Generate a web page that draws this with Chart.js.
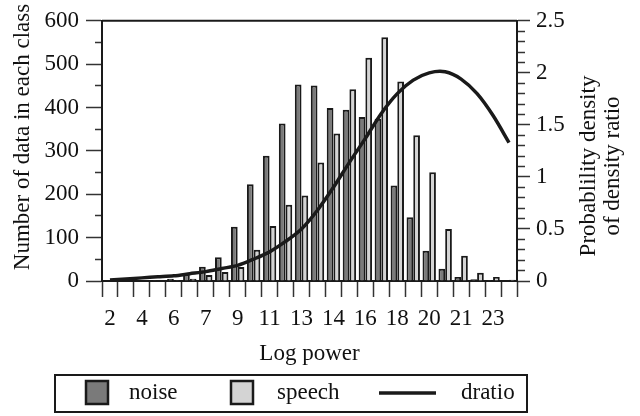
<!DOCTYPE html>
<html>
<head>
<meta charset="utf-8">
<script src="https://cdn.jsdelivr.net/npm/chart.js@4"></script>
<style>
  body { margin: 0; background: #fff; }
  #wrap { width: 640px; height: 416px; }
</style>
</head>
<body>
<div id="wrap"><canvas id="chart" width="640" height="416"></canvas></div>
<script>
// tick labels: only every other class is labelled
const labels = ['2', '', '4', '', '6', '', '7', '', '9', '', '11', '', '13', '', '14', '', '16', '', '18', '', '20', '', '21', '', '23', ''];

// number of data in each class
const noise = [0, 0, 1, 2, 5, 16, 33, 55, 125, 223, 289, 363, 453, 451, 399, 395, 378, 374, 220, 147, 70, 28, 9, 4, 2, 1];
const speech = [0, 0, 0, 1, 2, 5, 14, 21, 32, 72, 127, 176, 197, 273, 340, 442, 515, 562, 460, 336, 251, 120, 58, 19, 9, 3];

// probability density of density ratio
const dratio = [0.01, 0.02, 0.03, 0.04, 0.05, 0.07, 0.09, 0.12, 0.15, 0.21, 0.28, 0.38, 0.5, 0.68, 0.9, 1.14, 1.37, 1.61, 1.8, 1.93, 2.0, 2.01, 1.94, 1.8, 1.59, 1.33];

const FONT = '"Liberation Serif", "Times New Roman", Times, serif';
const SIZE = 23;
const INK = '#1a1a1a';
const NOISE_FILL = '#7a7a7a';
const SPEECH_FILL = '#d4d4d4';

Chart.defaults.font.family = FONT;
Chart.defaults.font.size = SIZE;
Chart.defaults.color = '#111';

// top frame line, axis titles and boxed legend
const extras = {
  id: 'extras',
  afterDraw(chart) {
    const { ctx, chartArea } = chart;
    ctx.save();
    ctx.strokeStyle = INK;
    ctx.lineWidth = 2;
    ctx.beginPath();
    ctx.moveTo(chartArea.left, chartArea.top);
    ctx.lineTo(chartArea.right, chartArea.top);
    ctx.stroke();

    ctx.fillStyle = '#111';
    ctx.font = SIZE + 'px ' + FONT;
    ctx.textAlign = 'center';
    ctx.textBaseline = 'middle';

    ctx.save();
    ctx.translate(23, 137);
    ctx.rotate(-Math.PI / 2);
    ctx.fillText('Number of data in each class', 0, 0);
    ctx.restore();

    ctx.save();
    ctx.translate(589, 166);
    ctx.rotate(-Math.PI / 2);
    ctx.fillText('Probablility density', 0, 0);
    ctx.fillText('of density ratio', 0, 24);
    ctx.restore();

    // legend
    ctx.lineWidth = 2;
    ctx.strokeRect(55, 375, 472, 37);
    ctx.lineWidth = 2.5;
    ctx.fillStyle = NOISE_FILL;
    ctx.fillRect(86, 381, 22, 23);
    ctx.strokeRect(86, 381, 22, 23);
    ctx.fillStyle = SPEECH_FILL;
    ctx.fillRect(231, 381, 22, 23);
    ctx.strokeRect(231, 381, 22, 23);
    ctx.lineWidth = 3.5;
    ctx.beginPath();
    ctx.moveTo(379, 393);
    ctx.lineTo(436, 393);
    ctx.stroke();
    ctx.fillStyle = '#111';
    ctx.textAlign = 'left';
    ctx.fillText('noise', 129, 393);
    ctx.fillText('speech', 277, 393);
    ctx.fillText('dratio', 461, 393);
    ctx.restore();
  }
};

const isHalf = v => Math.abs(v * 2 - Math.round(v * 2)) < 1e-6;

new Chart(document.getElementById('chart'), {
  data: {
    labels: labels,
    datasets: [
      {
        type: 'line',
        label: 'dratio',
        data: dratio,
        yAxisID: 'y1',
        borderColor: INK,
        borderWidth: 3.5,
        pointRadius: 0,
        tension: 0.3,
        order: 0
      },
      {
        type: 'bar',
        label: 'noise',
        data: noise,
        yAxisID: 'y',
        backgroundColor: NOISE_FILL,
        borderColor: INK,
        borderWidth: 2,
        categoryPercentage: 0.84,
        barPercentage: 1,
        order: 1
      },
      {
        type: 'bar',
        label: 'speech',
        data: speech,
        yAxisID: 'y',
        backgroundColor: SPEECH_FILL,
        borderColor: INK,
        borderWidth: 2,
        categoryPercentage: 0.84,
        barPercentage: 1,
        order: 1
      }
    ]
  },
  options: {
    responsive: false,
    animation: false,
    layout: { padding: { top: 15, bottom: 48, left: 0, right: 0 } },
    plugins: {
      legend: { display: false },
      tooltip: { enabled: false }
    },
    scales: {
      x: {
        offset: true,
        grid: { offset: true, drawOnChartArea: false, tickLength: 16, tickColor: '#333', tickWidth: 1.5 },
        border: { color: INK, width: 2 },
        ticks: { autoSkip: false, maxRotation: 0, padding: 8, color: '#111' },
        title: { display: true, text: 'Log power', padding: { top: 0, bottom: 0 } },
        afterFit: s => { s.height = 87; }
      },
      y: {
        position: 'left',
        min: 0,
        max: 600,
        ticks: {
          stepSize: 50,
          autoSkip: false,
          padding: 7,
          callback: v => (v % 100 === 0 ? v : '')
        },
        grid: {
          drawOnChartArea: false,
          tickLength: 16,
          tickColor: '#333',
          tickWidth: 1.5,
          tickBorderDash: c => (c.tick && c.tick.value % 100 !== 0 ? [0, 9, 7, 100] : [])
        },
        border: { color: INK, width: 2 },
        afterFit: s => { s.width = 102; }
      },
      y1: {
        position: 'right',
        min: 0,
        max: 2.5,
        ticks: {
          stepSize: 0.1,
          autoSkip: false,
          padding: 6,
          callback: v => (isHalf(v) ? String(Math.round(v * 10) / 10) : '')
        },
        grid: {
          drawOnChartArea: false,
          tickLength: 13,
          tickColor: '#333',
          tickWidth: 1.5,
          tickBorderDash: c => (c.tick && !isHalf(c.tick.value) ? [7, 100] : [])
        },
        border: { color: INK, width: 2 },
        afterFit: s => { s.width = 123; }
      }
    }
  },
  plugins: [extras]
});
</script>
</body>
</html>
